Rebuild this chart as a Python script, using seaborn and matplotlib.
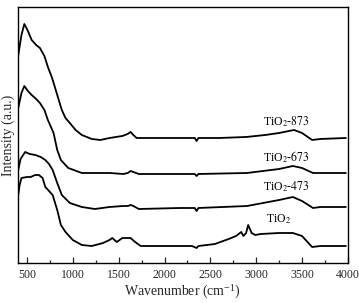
import matplotlib
matplotlib.use("Agg")
import matplotlib.pyplot as plt
import seaborn as sns
import pandas as pd
from matplotlib.ticker import MultipleLocator

# ---- data (intensity in arbitrary units, curves offset vertically) ----
wn_873 = [400, 440, 471, 510, 551, 600, 641, 690, 728, 770, 804, 840, 880, 920, 967, 1030, 1098, 1207,
          1300, 1402, 1540, 1598, 1630, 1660, 1696, 1800, 2163, 2330, 2350, 2370, 2600, 2891, 3100, 3250,
          3413, 3500, 3610, 3700, 3978]
i_873 = [205, 228, 239, 232, 223, 218, 215, 207, 196, 186, 176, 165, 153, 145, 140, 133, 128, 124,
         123, 125, 127, 129, 131, 128, 125, 125, 125, 125, 122, 125, 125, 126, 128, 130,
         133, 130, 123, 124, 125]

wn_673 = [400, 440, 471, 510, 551, 600, 641, 690, 728, 790, 830, 870, 950, 1098, 1240, 1400, 1550, 1600,
          1630, 1660, 1720, 2163, 2330, 2350, 2370, 2900, 3250, 3400, 3500, 3620, 3700, 3978]
i_673 = [153, 170, 177, 172, 168, 164, 160, 153, 143, 130, 113, 103, 95, 90, 90, 90, 89, 90,
         92, 91, 89, 89, 89, 87, 89, 90, 94, 97, 95, 90, 90, 90]

wn_473 = [400, 430, 480, 530, 590, 650, 700, 740, 780, 830, 880, 967, 1098, 1240, 1400, 1550, 1600,
          1630, 1660, 1720, 2163, 2330, 2350, 2370, 2900, 3250, 3400, 3500, 3620, 3700, 3978]
i_473 = [91, 104, 111, 109, 108, 106, 103, 99, 93, 80, 68, 60, 56, 54, 56, 57, 57,
         58, 57, 54, 55, 55, 52, 55, 57, 63, 66, 62, 55, 56, 56]

wn_tio2 = [400, 420, 440, 500, 540, 590, 630, 670, 700, 740, 780, 830, 870, 920, 1000, 1098, 1207, 1330,
           1400, 1430, 1480, 1540, 1600, 1630, 1680, 1740, 2163, 2300, 2350, 2370, 2550, 2700, 2780,
           2837, 2860, 2890, 2913, 2950, 2990, 3050, 3250, 3400, 3500, 3610, 3700, 3978]
i_tio2 = [65, 78, 85, 86, 86, 88, 88, 85, 76, 72, 68, 53, 38, 31, 23, 18, 17, 20,
          23, 25, 21, 25, 25, 25, 21, 17, 17, 17, 15, 17, 19, 24, 27,
          31, 27, 30, 38, 30, 28, 29, 30, 30, 27, 16, 17, 17]

samples = ["TiO2-873", "TiO2-673", "TiO2-473", "TiO2"]
label_text = [r"TiO$_2$-$\mathit{873}$", r"TiO$_2$-$\mathit{673}$", r"TiO$_2$-$\mathit{473}$", r"TiO$_2$"]
label_x = [3326, 3326, 3326, 3239]
label_y = [141, 106, 76, 44]
x_ticks = [500, 1000, 1500, 2000, 2500, 3000, 3500, 4000]

frames = []
for name, xs, ys in zip(samples, [wn_873, wn_673, wn_473, wn_tio2], [i_873, i_673, i_473, i_tio2]):
    frames.append(pd.DataFrame({"wavenumber": xs, "intensity": ys, "sample": name}))
df = pd.concat(frames, ignore_index=True)

# ---- style ----
sns.set_style("ticks")
plt.rcParams["font.family"] = ["Liberation Serif", "DejaVu Serif"]
plt.rcParams["mathtext.fontset"] = "stix"

fig = plt.figure(figsize=(3.59, 3.03), dpi=100)
ax = fig.add_axes([0.0496, 0.132, 0.9194, 0.845])

sns.lineplot(data=df, x="wavenumber", y="intensity", hue="sample", units="sample",
             estimator=None, sort=False, palette=["black"] * 4, linewidth=1.3,
             legend=False, ax=ax)
for ln in ax.get_lines():
    ln.set_solid_joinstyle("round")
    ln.set_solid_capstyle("round")

for t, x, y in zip(label_text, label_x, label_y):
    ax.text(x, y, t, ha="center", va="center", fontsize=8.5, color="black")

ax.set_xlim(400, 4000)
ax.set_ylim(0, 256)
ax.set_xticks(x_ticks)
ax.set_xticklabels([str(v) for v in x_ticks], fontsize=8.5)
ax.xaxis.set_minor_locator(MultipleLocator(250))
ax.set_yticks([])
ax.tick_params(axis="x", which="major", direction="in", length=4, width=0.9, pad=4)
ax.tick_params(axis="x", which="minor", direction="in", length=2.5, width=0.9)
for s in ax.spines.values():
    s.set_linewidth(1.0)
    s.set_color("black")

ax.set_xlabel(r"Wavenumber (cm$^{\mathregular{-1}}$)", fontsize=10, labelpad=2)
ax.set_ylabel("Intensity (a.u.)", fontsize=10, labelpad=2)

fig.savefig("out.png", dpi=100)
